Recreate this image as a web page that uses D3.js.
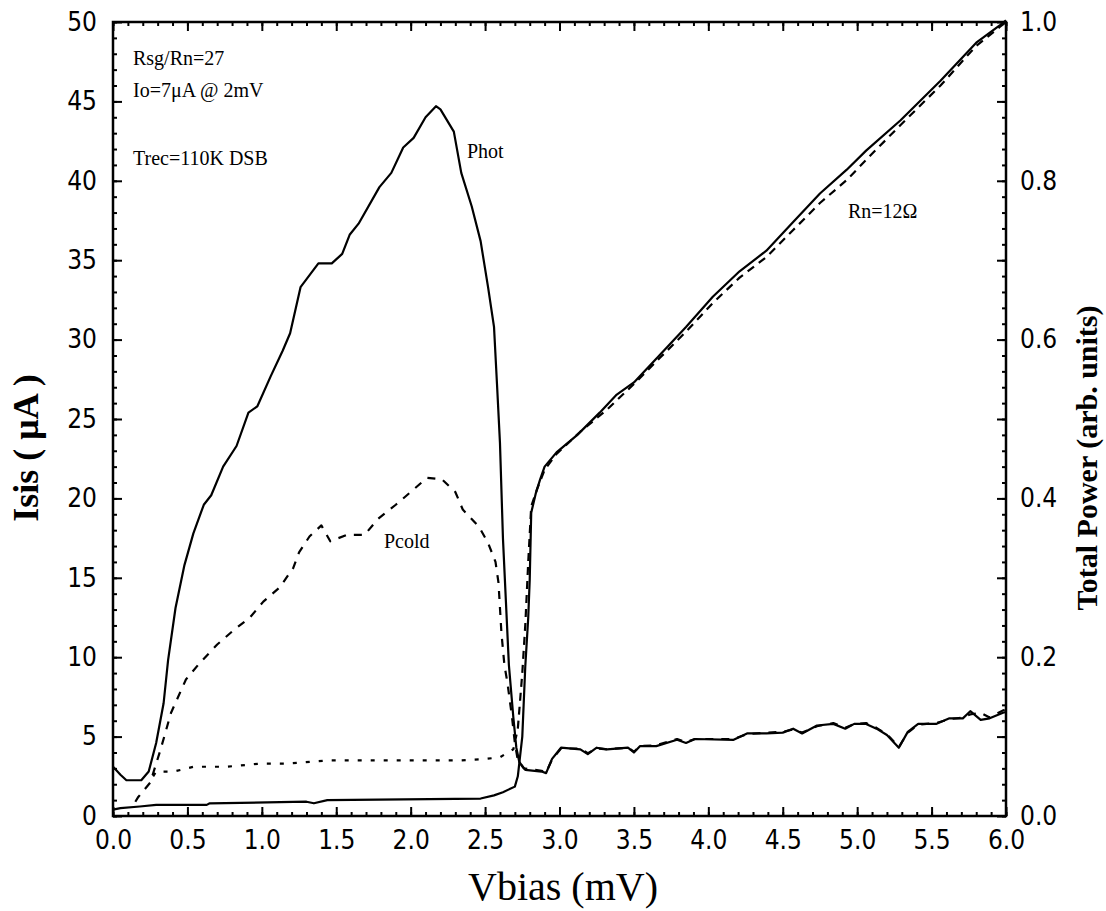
<!DOCTYPE html>
<html>
<head>
<meta charset="utf-8">
<script src="https://cdn.jsdelivr.net/npm/d3@7/dist/d3.min.js"></script>
<style>
  body { margin: 0; background: #fff; }
  .tick text { font-family: "DejaVu Sans Condensed", "DejaVu Sans", sans-serif; font-stretch: condensed; font-size: 26px; fill: #000; }
  .tick line { stroke: #000; stroke-width: 2; }
  .note { font-family: "Liberation Serif", "Times New Roman", serif; font-size: 20px; fill: #000; }
  .title { font-family: "Liberation Serif", "Times New Roman", serif; fill: #000; }
</style>
</head>
<body>
<div id="chart"></div>
<script>
// tick labels
const xTicks = [0, 0.5, 1, 1.5, 2, 2.5, 3, 3.5, 4, 4.5, 5, 5.5, 6];
const yTicks = [0, 5, 10, 15, 20, 25, 30, 35, 40, 45, 50];
const pTicks = [0, 0.2, 0.4, 0.6, 0.8, 1.0];

// total power, LO on hot load (arb. units)
const photV = [0.00,0.01,0.05,0.09,0.19,0.24,0.29,0.34,0.37,0.42,0.48,0.54,0.61,0.66,0.74,0.83,0.91,0.97,1.06,1.14,
  1.19,1.26,1.38,1.47,1.54,1.59,1.65,1.79,1.87,1.95,2.02,2.10,2.17,2.20,2.29,2.34,2.41,2.47,2.52,2.56,
  2.58,2.60,2.62,2.64,2.66,2.69,2.71,2.73,2.77,2.88,2.91,2.95,3.01,3.14,3.19,3.25,3.32,3.46,3.50,3.54,
  3.65,3.79,3.85,3.91,4.17,4.26,4.39,4.50,4.57,4.63,4.73,4.84,4.92,4.98,5.06,5.13,5.20,5.28,5.34,5.41,
  5.53,5.62,5.71,5.76,5.83,5.89,5.98,6.00];
const photP = [0.062,0.060,0.052,0.045,0.045,0.056,0.092,0.142,0.196,0.262,0.316,0.356,0.392,0.404,0.440,0.466,0.508,0.516,0.554,0.586,
  0.608,0.666,0.696,0.696,0.708,0.732,0.746,0.792,0.810,0.842,0.854,0.880,0.894,0.890,0.862,0.810,0.768,0.724,0.666,0.616,
  0.544,0.470,0.350,0.270,0.190,0.124,0.086,0.068,0.058,0.056,0.054,0.072,0.086,0.084,0.078,0.086,0.084,0.086,0.080,0.088,
  0.088,0.096,0.092,0.097,0.096,0.104,0.104,0.105,0.110,0.104,0.114,0.116,0.110,0.116,0.116,0.110,0.102,0.086,0.106,0.116,
  0.116,0.123,0.123,0.132,0.121,0.123,0.130,0.131];

// total power, cold load (arb. units)
const coldV = [0.15,0.17,0.25,0.32,0.39,0.49,0.58,0.70,0.81,0.92,1.01,1.12,1.21,1.25,1.32,1.40,1.46,1.57,1.69,1.78,
  1.90,2.00,2.11,2.21,2.30,2.35,2.46,2.52,2.57,2.59,2.61,2.63,2.65,2.68,2.70,2.72,2.76,2.88,2.91,2.95,
  3.01,3.14,3.19,3.25,3.32,3.46,3.50,3.54,3.65,3.79,3.85,3.91,4.17,4.26,4.39,4.50,4.57,4.63,4.73,4.84,
  4.92,4.98,5.06,5.13,5.20,5.28,5.34,5.41,5.53,5.62,5.71,5.76,5.83,5.89,5.98,6.00];
const coldP = [0.018,0.024,0.042,0.084,0.130,0.172,0.192,0.216,0.234,0.250,0.270,0.288,0.312,0.332,0.352,0.366,0.346,0.354,0.354,0.374,
  0.392,0.408,0.426,0.424,0.408,0.386,0.364,0.344,0.320,0.294,0.230,0.190,0.168,0.126,0.092,0.070,0.060,0.057,0.055,0.071,
  0.085,0.085,0.079,0.085,0.084,0.086,0.081,0.088,0.089,0.097,0.093,0.097,0.097,0.103,0.105,0.106,0.109,0.105,0.113,0.117,
  0.111,0.116,0.117,0.111,0.103,0.087,0.105,0.115,0.117,0.122,0.124,0.128,0.130,0.124,0.133,0.134];

// unpumped I-V curve (uA)
const ivV = [0.00,0.05,0.18,0.29,0.63,0.65,1.30,1.35,1.44,2.47,2.56,2.62,2.70,2.72,2.75,2.77,2.79,2.80,2.81,2.84,
  2.87,2.90,2.98,3.12,3.27,3.38,3.50,3.68,3.85,4.03,4.21,4.39,4.57,4.75,4.93,5.06,5.29,5.56,5.80,5.96,6.00];
const ivI = [0.4,0.5,0.6,0.7,0.7,0.8,0.9,0.8,1.0,1.1,1.3,1.5,1.85,2.5,5.0,9.4,12.5,14.9,19.1,20.3,
  21.2,22.0,22.9,24.0,25.4,26.5,27.3,29.1,30.8,32.7,34.3,35.6,37.4,39.2,40.7,41.9,43.8,46.3,48.7,49.8,50.1];

// pumped I-V curve below the gap (uA)
const pumpSubV = [0.27,0.29,0.41,0.54,0.76,0.99,1.17,1.44,1.88,2.33,2.51,2.60,2.69,2.72];
const pumpSubI = [2.5,2.8,2.8,3.1,3.1,3.3,3.3,3.5,3.5,3.5,3.6,3.7,4.2,5.5];

// pumped I-V curve above the gap (uA)
const pumpV = [2.72,2.75,2.77,2.79,2.81,2.85,2.90,2.98,3.14,3.32,3.50,3.68,3.85,4.03,4.21,4.39,4.57,4.75,4.93,5.10,
  5.29,5.56,5.80,5.96,6.00];
const pumpI = [5.5,9.0,12.0,16.0,19.5,20.6,21.8,22.8,24.2,25.6,27.2,28.9,30.5,32.3,33.9,35.2,36.9,38.6,40.05,41.7,
  43.5,46.0,48.5,49.7,50.0];

const width = 1106, height = 911;
const plotL = 113, plotR = 1006, plotT = 22, plotB = 816;

const svg = d3.select("#chart").append("svg")
  .attr("width", width)
  .attr("height", height);

const x = d3.scaleLinear().domain([0, 6]).range([plotL, plotR]);
const y = d3.scaleLinear().domain([0, 50]).range([plotB, plotT]);
const yP = d3.scaleLinear().domain([0, 1]).range([plotB, plotT]);

// minor ticks
const xMinor = d3.range(0, 6.001, 0.1);
const yMinor = d3.range(0, 50.001, 1);
const pMinor = d3.range(0, 1.001, 0.02);
const pMajor = d3.range(0, 1.001, 0.1);

function axisGroup(axis, tx, ty) {
  const g = svg.append("g").attr("transform", `translate(${tx},${ty})`).call(axis);
  g.select(".domain").remove();
  return g;
}

axisGroup(d3.axisBottom(x).tickValues(xMinor).tickSize(-4).tickFormat(""), 0, plotB);
axisGroup(d3.axisBottom(x).tickValues(xTicks).tickSize(-9).tickPadding(15).tickFormat(d3.format(".1f")), 0, plotB);
axisGroup(d3.axisTop(x).tickValues(xMinor).tickSize(-4).tickFormat(""), 0, plotT);
axisGroup(d3.axisTop(x).tickValues(xTicks).tickSize(-9).tickFormat(""), 0, plotT);

axisGroup(d3.axisLeft(y).tickValues(yMinor).tickSize(-4).tickFormat(""), plotL, 0);
axisGroup(d3.axisLeft(y).tickValues(yTicks).tickSize(-9).tickPadding(16).tickFormat(d3.format("d")), plotL, 0);

axisGroup(d3.axisRight(yP).tickValues(pMinor).tickSize(-4).tickFormat(""), plotR, 0);
axisGroup(d3.axisRight(yP).tickValues(pMajor).tickSize(-9).tickFormat(""), plotR, 0);
axisGroup(d3.axisRight(yP).tickValues(pTicks).tickSize(0).tickPadding(14).tickFormat(d3.format(".1f")), plotR, 0);

svg.append("rect")
  .attr("x", plotL).attr("y", plotT)
  .attr("width", plotR - plotL).attr("height", plotB - plotT)
  .attr("fill", "none").attr("stroke", "#000").attr("stroke-width", 2.5);

const lineI = d3.line().x(d => x(d[0])).y(d => y(d[1]));
const lineP = d3.line().x(d => x(d[0])).y(d => yP(d[1]));

function drawLine(vs, ys, gen, dash) {
  svg.append("path")
    .datum(vs.map((v, i) => [v, ys[i]]))
    .attr("d", gen)
    .attr("fill", "none")
    .attr("stroke", "#000")
    .attr("stroke-width", 2.2)
    .attr("stroke-linejoin", "round")
    .attr("stroke-dasharray", dash);
}

drawLine(pumpSubV, pumpSubI, lineI, "4,9");
drawLine(pumpV, pumpI, lineI, "8,6");
drawLine(coldV, coldP, lineP, "8,8");
drawLine(ivV, ivI, lineI, null);
drawLine(photV, photP, lineP, null);

// annotations
const notes = [
  { t: "Rsg/Rn=27", x: 133, y: 65 },
  { t: "Io=7\u03bcA @ 2mV", x: 133, y: 97 },
  { t: "Trec=110K DSB", x: 133, y: 165 },
  { t: "Phot", x: 467, y: 158 },
  { t: "Pcold", x: 384, y: 548 },
  { t: "Rn=12\u03a9", x: 848, y: 218 }
];
svg.selectAll("text.note").data(notes).enter().append("text")
  .attr("class", "note")
  .attr("x", d => d.x).attr("y", d => d.y)
  .text(d => d.t);

// axis titles
svg.append("text")
  .attr("class", "title")
  .attr("x", 563).attr("y", 900)
  .attr("text-anchor", "middle")
  .style("font-size", "40px")
  .text("Vbias (mV)");

svg.append("text")
  .attr("class", "title")
  .attr("transform", "translate(38,448) rotate(-90)")
  .attr("text-anchor", "middle")
  .style("font-size", "36px")
  .style("font-weight", "bold")
  .text("Isis ( \u03bcA )");

svg.append("text")
  .attr("class", "title")
  .attr("transform", "translate(1097,458) rotate(-90)")
  .attr("text-anchor", "middle")
  .style("font-size", "30px")
  .style("font-weight", "bold")
  .text("Total Power (arb. units)");
</script>
</body>
</html>
